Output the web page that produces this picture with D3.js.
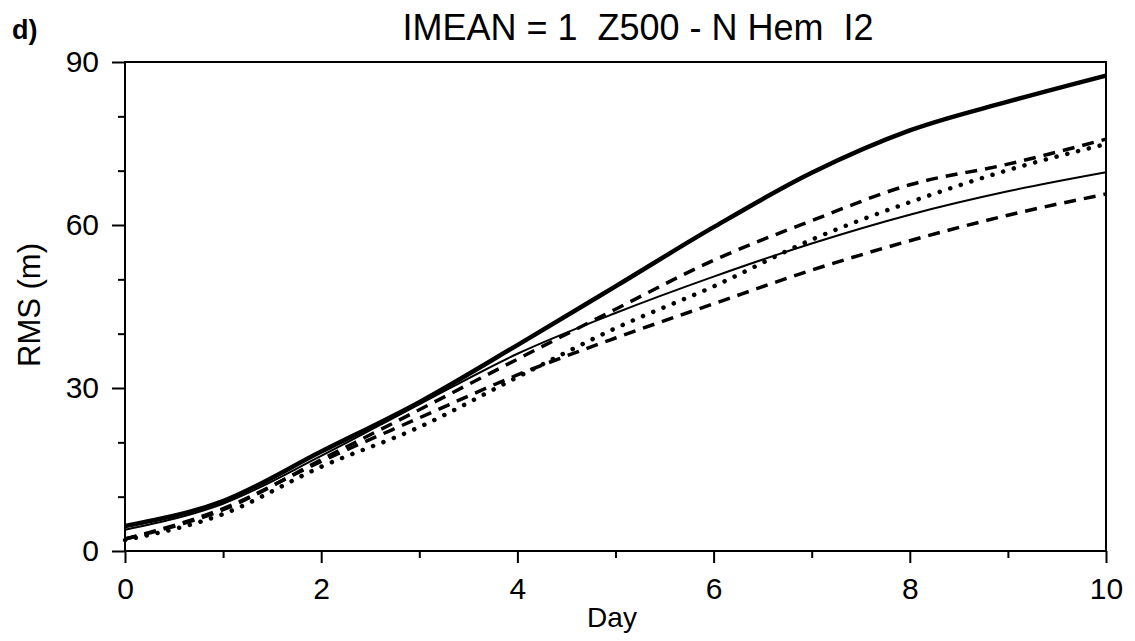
<!DOCTYPE html>
<html>
<head>
<meta charset="utf-8">
<script src="https://cdn.jsdelivr.net/npm/d3@7"></script>
<style>
  body { margin: 0; background: #fff; }
  text { font-family: "Liberation Sans", Arial, sans-serif; fill: #000; }
</style>
</head>
<body>
<svg width="1135" height="641"></svg>
<script>
// data (RMS in m, by forecast day)
const days = [0, 1, 2, 3, 4, 5, 6, 7, 8, 9, 10];
const thickSolid = [4.6, 9.2, 18.3, 27.4, 37.9, 48.7, 59.6, 69.6, 77.4, 82.7, 87.5];
const thinSolid = [3.9, 8.7, 17.5, 27.0, 36.3, 43.8, 50.5, 56.6, 61.9, 66.2, 69.7];
const upperDashed = [2.2, 7.6, 16.8, 26.0, 35.3, 44.5, 53.5, 60.8, 67.4, 71.2, 75.8];
const dotted = [2.0, 6.8, 15.5, 22.8, 32.0, 41.0, 48.7, 57.3, 64.2, 70.1, 74.9];
const lowerDashed = [2.2, 7.8, 16.5, 24.5, 32.4, 39.2, 45.5, 51.7, 57.1, 61.8, 65.7];
const xTicks = [0, 2, 4, 6, 8, 10];
const yTicks = [0, 30, 60, 90];

const svg = d3.select('svg');
const margin = { top: 62, right: 29, bottom: 90, left: 125 };
const innerWidth = +svg.attr("width") - margin.left - margin.right;
const innerHeight = +svg.attr("height") - margin.top - margin.bottom;
const g = svg.append("g").attr("transform", "translate(" + margin.left + "," + margin.top + ")");

let xscale = d3.scaleLinear().domain([0, 10]).range([0, innerWidth]);
let yscale = d3.scaleLinear().domain([0, 90]).range([innerHeight, 0]);

let line = d3.line()
    .curve(d3.curveMonotoneX)
    .x((d, i) => xscale(days[i]))
    .y(d => yscale(d));

// series styles
const series = [
    { vals: lowerDashed, width: 3.5, dash: "12,8", cap: "butt" },
    { vals: dotted, width: 4.5, dash: "0.1,11", cap: "round" },
    { vals: upperDashed, width: 3.5, dash: "12,8", cap: "butt" },
    { vals: thinSolid, width: 2, dash: null, cap: "butt" },
    { vals: thickSolid, width: 4.5, dash: null, cap: "butt" }
];
g.selectAll(".line")
    .data(series)
    .enter()
    .append("path")
    .attr("class", "line")
    .attr("fill", "none")
    .attr("stroke", "#000")
    .attr("stroke-width", d => d.width)
    .attr("stroke-linecap", d => d.cap)
    .attr("stroke-dasharray", d => d.dash)
    .attr("d", d => line(d.vals));

// frame
g.append("rect")
    .attr("width", innerWidth)
    .attr("height", innerHeight)
    .attr("fill", "none")
    .attr("stroke", "#000")
    .attr("stroke-width", 2);

// x axis: major ticks with labels, minor ticks at odd days
const xaxis = d3.axisBottom(xscale).tickValues(xTicks).tickSize(12).tickFormat(d3.format("d"));
const xg = g.append("g").attr("transform", "translate(0," + innerHeight + ")").call(xaxis);
xg.select(".domain").remove();
xg.selectAll("line").attr("stroke-width", 2);
xg.selectAll("text").attr("font-size", "30px").attr("y", 27)
    .style("font-family", "'Liberation Sans', Arial, sans-serif");
const xminor = d3.axisBottom(xscale).tickValues([1, 3, 5, 7, 9]).tickSize(7);
const xmg = g.append("g").attr("transform", "translate(0," + innerHeight + ")").call(xminor);
xmg.select(".domain").remove();
xmg.selectAll("text").remove();
xmg.selectAll("line").attr("stroke-width", 2);

// y axis
const yaxis = d3.axisLeft(yscale).tickValues(yTicks).tickSize(13).tickPadding(13);
const yg = g.append("g").call(yaxis);
yg.select(".domain").remove();
yg.selectAll("line").attr("stroke-width", 2);
yg.selectAll("text").attr("font-size", "30px")
    .style("font-family", "'Liberation Sans', Arial, sans-serif");
const yminor = d3.axisLeft(yscale).tickValues([10, 20, 40, 50, 70, 80]).tickSize(7);
const ymg = g.append("g").call(yminor);
ymg.select(".domain").remove();
ymg.selectAll("text").remove();
ymg.selectAll("line").attr("stroke-width", 2);

// labels
svg.append("text")
    .attr("x", 612).attr("y", 627)
    .attr("text-anchor", "middle")
    .attr("font-size", "28px")
    .text("Day");
svg.append("text")
    .attr("transform", "translate(40,305) rotate(-90)")
    .attr("text-anchor", "middle")
    .attr("font-size", "31px")
    .text("RMS (m)");
svg.append("text")
    .attr("x", 638).attr("y", 40)
    .attr("text-anchor", "middle")
    .attr("font-size", "36px")
    .attr("xml:space", "preserve")
    .style("white-space", "pre")
    .text("IMEAN = 1  Z500 - N Hem  I2");
svg.append("text")
    .attr("x", 12).attr("y", 39)
    .attr("font-size", "27px")
    .attr("font-weight", "bold")
    .text("d)");
</script>
</body>
</html>
